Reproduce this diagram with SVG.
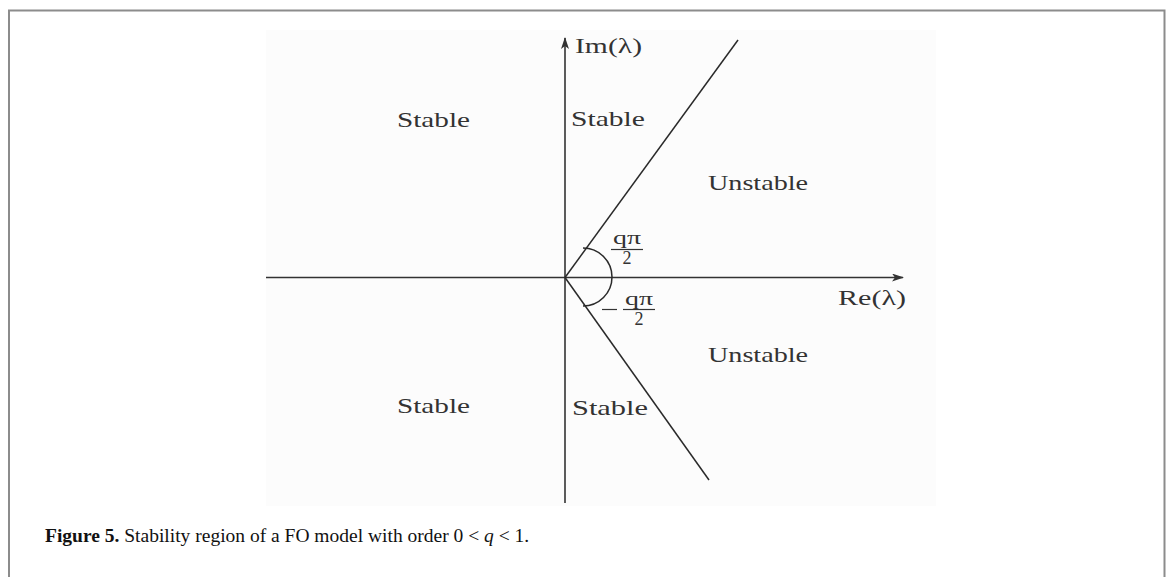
<svg xmlns="http://www.w3.org/2000/svg" width="1171" height="577" viewBox="0 0 1171 577">
<style>
.lbl{font-family:"Liberation Serif","DejaVu Serif",serif;font-size:21px;fill:#333}
.frac{font-family:"Liberation Serif","DejaVu Serif",serif;font-size:18px;fill:#333;text-anchor:middle}
.ax{stroke:#333;stroke-width:1.6;fill:none}
.ln{stroke:#2a2a2a;stroke-width:1.5;fill:none}
.bar{stroke:#333;stroke-width:1.2}
.cap{font-family:"Liberation Serif","DejaVu Serif",serif;font-size:19.5px;fill:#111}
</style>
<defs>
<marker id="ah" markerWidth="12" markerHeight="8" refX="11" refY="4" orient="auto" markerUnits="userSpaceOnUse">
<path d="M0,0 L12,4 L0,8 L3,4 Z" fill="#333"/>
</marker>
</defs>
<rect x="0" y="0" width="1171" height="577" fill="#fff"/>
<path d="M9,577 V10.5 H1164.5 V577" fill="none" stroke="#8c8c8c" stroke-width="2"/>
<rect x="266" y="30" width="670" height="476" fill="#fcfcfc"/>
<g id="connectors">
<line class="ax" x1="266" y1="277.5" x2="903" y2="277.5" marker-end="url(#ah)"/>
<line class="ax" x1="565" y1="503" x2="565" y2="38" marker-end="url(#ah)"/>
<line class="ln" x1="565" y1="277.5" x2="738" y2="40"/>
<line class="ln" x1="565" y1="277.5" x2="709" y2="480"/>
<path class="ln" d="M583,248 A29,29 0 0 1 583,306"/>
</g>
<g id="label-im"><text class="lbl" x="575" y="53" textLength="67" lengthAdjust="spacingAndGlyphs">Im(λ)</text></g>
<g id="label-re"><text class="lbl" x="838" y="305" textLength="68" lengthAdjust="spacingAndGlyphs">Re(λ)</text></g>
<g id="stable-tl"><text class="lbl" x="397" y="127" textLength="73" lengthAdjust="spacingAndGlyphs">Stable</text></g>
<g id="stable-tc"><text class="lbl" x="571" y="126" textLength="74" lengthAdjust="spacingAndGlyphs">Stable</text></g>
<g id="unstable-u"><text class="lbl" x="708" y="190" textLength="100" lengthAdjust="spacingAndGlyphs">Unstable</text></g>
<g id="unstable-l"><text class="lbl" x="708" y="362" textLength="100" lengthAdjust="spacingAndGlyphs">Unstable</text></g>
<g id="stable-bl"><text class="lbl" x="397" y="413" textLength="73" lengthAdjust="spacingAndGlyphs">Stable</text></g>
<g id="stable-bc"><text class="lbl" x="572" y="415" textLength="76" lengthAdjust="spacingAndGlyphs">Stable</text></g>
<g id="angle-pos">
<text class="frac" x="627" y="244" textLength="28" lengthAdjust="spacingAndGlyphs">qπ</text>
<line class="bar" x1="611" y1="249.5" x2="643" y2="249.5"/>
<text class="frac" x="627" y="264">2</text>
</g>
<g id="angle-neg">
<line class="bar" x1="602" y1="309.5" x2="617" y2="309.5"/>
<text class="frac" x="639" y="305" textLength="28" lengthAdjust="spacingAndGlyphs">qπ</text>
<line class="bar" x1="623" y1="309.5" x2="655" y2="309.5"/>
<text class="frac" x="639" y="325">2</text>
</g>
<g id="caption">
<text class="cap" x="45" y="542"><tspan font-weight="bold">Figure 5.</tspan> Stability region of a FO model with order 0 &lt; <tspan font-style="italic">q</tspan> &lt; 1.</text>
</g>
</svg>
